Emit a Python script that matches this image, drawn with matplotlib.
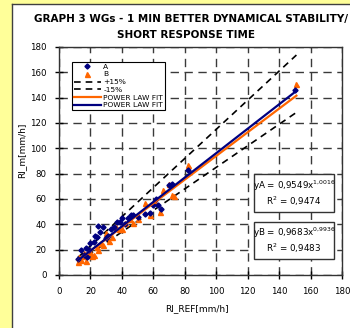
import matplotlib
matplotlib.use("Agg")
import matplotlib.pyplot as plt
from matplotlib.patches import Rectangle
import numpy as np

# Data
A_x = [12, 14, 16, 17, 18, 19, 20, 22, 23, 24, 25, 26, 28, 30, 31, 33, 35, 37, 39, 40, 42, 44, 46, 47, 50, 55, 58, 60, 62, 63, 65, 70, 72, 82, 150]
A_y = [13, 20, 16, 21, 14, 20, 25, 26, 31, 30, 39, 34, 38, 29, 31, 36, 38, 42, 42, 45, 40, 45, 47, 47, 46, 48, 49, 55, 60, 55, 52, 71, 72, 83, 146]
B_x = [12, 13, 14, 15, 16, 17, 18, 20, 21, 22, 24, 25, 27, 28, 30, 32, 34, 36, 38, 40, 42, 45, 47, 50, 55, 58, 61, 64, 66, 70, 72, 73, 82, 151]
B_y = [10, 14, 12, 15, 17, 11, 16, 18, 15, 16, 22, 20, 25, 24, 33, 27, 30, 38, 36, 36, 41, 44, 41, 44, 57, 47, 58, 50, 67, 72, 63, 62, 87, 151]

fit_A = (0.9549, 1.0016)
fit_B = (0.9683, 0.9936)
r2_A = "0,9474"
r2_B = "0,9483"
band = 0.15

ticks = [0, 20, 40, 60, 80, 100, 120, 140, 160, 180]

NAVY = "#000080"
ORANGE = "#FF6600"

W, H = 350, 328
fig = plt.figure(figsize=(W / 100, H / 100), dpi=100)
fig.patch.set_facecolor("#FFFF99")
bg = fig.add_axes([12 / W, -0.01, 1.0, (H - 4) / H + 0.01], zorder=-5)
bg.set_xticks([]); bg.set_yticks([])
bg.set_facecolor("white")
for s in bg.spines.values():
    s.set_color("#404040"); s.set_linewidth(1.0)

ax = fig.add_axes([59 / W, (H - 275) / H, 283 / W, 228 / H], zorder=1)
ax.set_facecolor("white")

xmin = min(min(A_x), min(B_x))
xmax = max(max(A_x), max(B_x))
xs = np.linspace(xmin, xmax, 100)

ax.plot(A_x, A_y, linestyle="none", marker="D", ms=2.6, color=NAVY, label="A", zorder=4)
ax.plot(B_x, B_y, linestyle="none", marker="^", ms=3.6, color=ORANGE, label="B", zorder=3)
ax.plot(xs, xs * (1 + band), color="black", ls=(0, (4, 3)), lw=1.2, label="+15%", zorder=2)
ax.plot(xs, xs * (1 - band), color="black", ls=(0, (4, 3)), lw=1.2, label="-15%", zorder=2)
ax.plot(xs, fit_B[0] * xs ** fit_B[1], color=ORANGE, lw=1.6, label="POWER LAW FIT", zorder=5)
ax.plot(xs, fit_A[0] * xs ** fit_A[1], color=NAVY, lw=1.6, label="POWER LAW FIT", zorder=6)

ax.set_xlim(0, 180)
ax.set_ylim(0, 180)
ax.set_xticks(ticks)
ax.set_yticks(ticks)
ax.tick_params(direction="inout", length=6, width=1, labelsize=6.2, pad=6, colors="black")
ax.grid(True, color="#3a3a3a", ls=(0, (6, 4)), lw=1.0)
for s in ax.spines.values():
    s.set_color("#333333")
    s.set_linewidth(1.0)

leg = ax.legend(loc="upper left", bbox_to_anchor=(0.046, 0.936), fontsize=5.4, frameon=True,
                fancybox=False, edgecolor="black", framealpha=1, borderpad=0.25,
                labelspacing=0.2, handlelength=3.6, handletextpad=0.3, borderaxespad=0)
leg.get_frame().set_linewidth(0.8)
leg.set_zorder(10)

def eqbox(y0, y1, name, coef, r2):
    x0, x1 = 0.689, 0.972
    ax.add_patch(Rectangle((x0, y0), x1 - x0, y1 - y0, transform=ax.transAxes,
                           facecolor="white", edgecolor="#333333", lw=1.0, zorder=7))
    a = coef[0]
    b = coef[1]
    sa = f"{a:.4f}".replace(".", "{,}")
    sb = f"{b:.4f}".replace(".", "{,}")
    ax.text((x0 + x1) / 2, y0 + (y1 - y0) * 0.70,
            name + r" = $\mathregular{" + sa + r"x^{" + sb + r"}}$",
            transform=ax.transAxes, ha="center", va="center", fontsize=6.3, zorder=8)
    ax.text((x0 + x1) / 2, y0 + (y1 - y0) * 0.28, r"R$^2$ = " + r2,
            transform=ax.transAxes, ha="center", va="center", fontsize=6.3, zorder=8)

eqbox(0.276, 0.443, "yA", fit_A, r2_A)
eqbox(0.070, 0.232, "yB", fit_B, r2_B)

fig.text(191 / W, 1 - 19 / H, "GRAPH 3 WGs - 1 MIN BETTER DYNAMICAL STABILITY/",
         ha="center", va="center", fontsize=7.5, fontweight="bold")
fig.text(186 / W, 1 - 35 / H, "SHORT RESPONSE TIME",
         ha="center", va="center", fontsize=7.5, fontweight="bold")
fig.text(22 / W, 1 - 150 / H, "RI_m[mm/h]", rotation=90, ha="center", va="center", fontsize=6.5)
fig.text(197 / W, 1 - 309 / H, "RI_REF[mm/h]", ha="center", va="center", fontsize=6.5)

fig.savefig("out.png", dpi=100, facecolor=fig.get_facecolor())
